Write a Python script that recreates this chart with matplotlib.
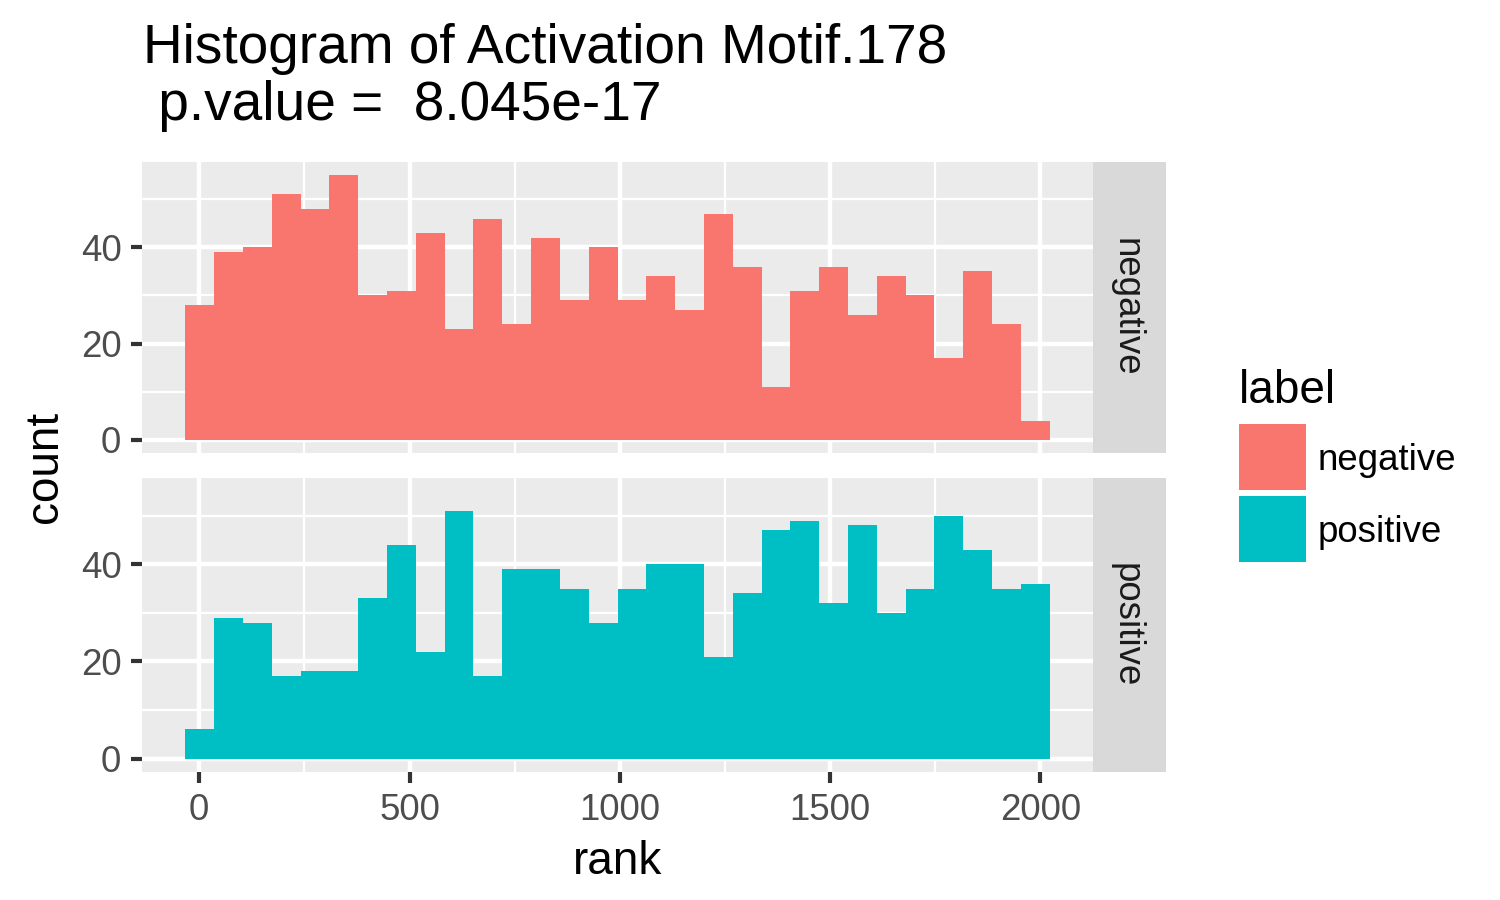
import matplotlib as mpl
import matplotlib.pyplot as plt
import numpy as np
from matplotlib.patches import Rectangle
from matplotlib.ticker import FixedLocator, MultipleLocator


# --- data ---
labels = ["negative", "positive"]
neg_counts = [28, 39, 40, 51, 48, 55, 30, 31, 43, 23, 46, 24, 42, 29, 40,
              29, 34, 27, 47, 36, 11, 31, 36, 26, 34, 30, 17, 35, 24, 4]
pos_counts = [6, 29, 28, 17, 18, 18, 33, 44, 22, 51, 17, 39, 39, 35, 28,
              35, 40, 40, 21, 34, 47, 49, 32, 48, 30, 35, 50, 43, 35, 36]
rank_min, rank_max = 1, 1988
n_bins = 30
x_ticks = [0, 500, 1000, 1500, 2000]
y_ticks = [0, 20, 40]
title_lines = ["Histogram of Activation Motif.178", " p.value =  8.045e-17"]
x_label = "rank"
y_label = "count"
legend_title = "label"

# --- ggplot2-ish styling ---
PALETTE = {
    "negative": "#F8766D",
    "positive": "#00BFC4",
    "panel": "#EBEBEB",
    "strip": "#D9D9D9",
    "tick_text": "#4D4D4D",
    "tick": "#333333",
    "strip_text": "#1A1A1A",
}

mpl.rcParams.update({
    "font.family": ["Liberation Sans", "DejaVu Sans"],
    "font.size": 11,
})

W, H = 1500, 900


def fx(px):
    return px / W


def fy(py):
    return 1 - py / H


# ggplot bins: width = range/(bins-1), first bin centred on min
width = (rank_max - rank_min) / (n_bins - 1)
edges = rank_min - width / 2 + width * np.arange(n_bins + 1)
span = edges[-1] - edges[0]
xlim = (edges[0] - 0.05 * span, edges[-1] + 0.05 * span)
ymax = max(max(neg_counts), max(pos_counts))
ylim = (-0.05 * ymax, ymax * 1.05)

fig = plt.figure(figsize=(5, 3), dpi=300)

panel_left, panel_right = 142, 1093
strip_right = 1166
panels = [(162, 453), (478, 772)]
series = [neg_counts, pos_counts]

axes = []
for i, ((top, bottom), counts, lab) in enumerate(zip(panels, series, labels)):
    ax = fig.add_axes([fx(panel_left), fy(bottom),
                       fx(panel_right - panel_left), (bottom - top) / H])
    ax.set_facecolor(PALETTE["panel"])
    for s in ax.spines.values():
        s.set_visible(False)
    ax.stairs(counts, edges, fill=True, color=PALETTE[lab], linewidth=0,
              zorder=3)
    ax.set_xlim(*xlim)
    ax.set_ylim(*ylim)
    ax.xaxis.set_major_locator(FixedLocator(x_ticks))
    ax.yaxis.set_major_locator(FixedLocator(y_ticks))
    ax.xaxis.set_minor_locator(MultipleLocator(250))
    ax.yaxis.set_minor_locator(MultipleLocator(10))
    ax.grid(which="major", color="white", linewidth=1.07, zorder=1)
    ax.grid(which="minor", color="white", linewidth=0.53, zorder=1)
    ax.set_axisbelow(True)
    ax.tick_params(which="minor", length=0)
    ax.tick_params(which="major", length=2.75, width=1.0, color=PALETTE["tick"],
                   labelcolor=PALETTE["tick_text"], labelsize=8.8, pad=2.2)
    if i == 0:
        ax.tick_params(axis="x", which="both", bottom=False, labelbottom=False)

    # facet strip on the right
    sax = fig.add_axes([fx(panel_right), fy(bottom),
                        fx(strip_right - panel_right), (bottom - top) / H])
    sax.set_facecolor(PALETTE["strip"])
    sax.set_xticks([])
    sax.set_yticks([])
    for s in sax.spines.values():
        s.set_visible(False)
    sax.text(0.45, 0.5, lab, rotation=270, ha="center", va="center",
             fontsize=8.8, color=PALETTE["strip_text"], transform=sax.transAxes)
    axes.append(ax)

# axis titles
fig.text(fx((panel_left + panel_right) / 2), fy(862), x_label, ha="center",
         va="center", fontsize=11)
fig.text(fx(45), fy(467), y_label, ha="center", va="center", rotation=90,
         fontsize=11)

# title (two lines, left aligned with the panel)
fig.text(fx(143), fy(63), title_lines[0], ha="left", va="baseline",
         fontsize=13.2)
fig.text(fx(143), fy(120), title_lines[1], ha="left", va="baseline",
         fontsize=13.2)

# legend
fig.text(fx(1239), fy(403), legend_title, ha="left", va="baseline", fontsize=11)
key_tops = [424, 496]
key_h = 66
for lab, kt in zip(labels, key_tops):
    fig.patches.append(Rectangle((fx(1239), fy(kt + key_h)), fx(67), key_h / H,
                                 transform=fig.transFigure,
                                 facecolor=PALETTE[lab], edgecolor="none"))
    fig.text(fx(1318), fy(kt + key_h / 2 + 13), lab, ha="left", va="baseline",
             fontsize=8.8)

fig.savefig("out.png", dpi=300)
plt.close(fig)
